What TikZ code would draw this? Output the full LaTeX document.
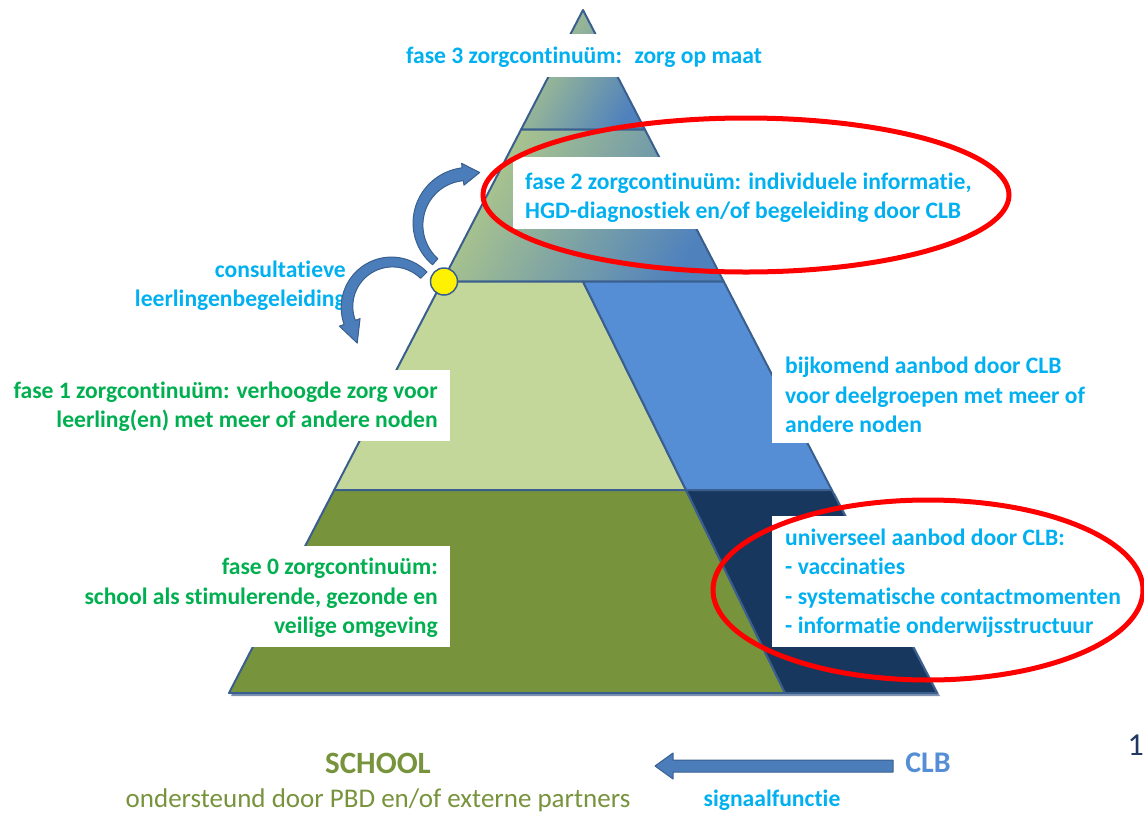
\documentclass[tikz,border=0pt]{standalone}
\usepackage{fontspec}
\setmainfont{Carlito}[Ligatures=NoCommon]
\usetikzlibrary{calc}
\definecolor{cyanT}{HTML}{00B0F0}
\definecolor{greenT}{HTML}{00B050}
\definecolor{oliveC}{HTML}{77933C}
\definecolor{ltgreen}{HTML}{C4D79B}
\definecolor{midblue}{HTML}{558ED5}
\definecolor{navyC}{HTML}{17375E}
\definecolor{edgeC}{HTML}{3A5F8E}
\definecolor{shadowC}{HTML}{7F93B3}
\definecolor{gGreen}{HTML}{B3CB88}
\definecolor{gBlue}{HTML}{4F81BD}
\definecolor{arrowC}{HTML}{4A7DBA}
\definecolor{slidenum}{HTML}{1F3864}
\tikzset{
  layer/.style={draw=edgeC, line width=2pt, line join=round},
  gradlayer/.style={layer, left color=gGreen, right color=gBlue, shading angle=60},
  shadowst/.style={fill=shadowC, draw=none},
  txt/.style={inner sep=0pt, font=\fontsize{23.6}{29.5}\selectfont\bfseries},
  curvearrow/.style={fill=arrowC, draw=edgeC, line width=1pt, line join=round},
  ring/.style={draw=red, line width=5pt}
}
\begin{document}
\begin{tikzpicture}[x=1pt, y=-1pt]
\useasboundingbox (0,0) rectangle (1144,812);
% shadows
\fill[shadowst] (336.2,493) -- (834.8,493) -- (940,696) -- (231,696) -- cycle;
% layer 3 (top)
\path[gradlayer] (583,10) -- (644.9,129.5) -- (521.1,129.5) -- cycle;
% layer 2
\path[gradlayer] (521.1,129.5) -- (644.9,129.5) -- (723.7,281.5) -- (442.3,281.5) -- cycle;
% layer 1
\path[layer, fill=ltgreen] (442.3,281.5) -- (583,281.5) -- (686,490) -- (334.2,490) -- cycle;
\path[layer, fill=midblue] (583,281.5) -- (723.7,281.5) -- (831.8,490) -- (686,490) -- cycle;
% layer 0
\path[layer, fill=oliveC] (334.2,490) -- (686,490) -- (785,693) -- (229,693) -- cycle;
\path[layer, fill=navyC] (686,490) -- (831.8,490) -- (937,693) -- (785,693) -- cycle;
% white text boxes
\fill[white] (395,34) rectangle (775,77);
\fill[white] (513,157) rectangle (990,229);
\fill[white] (0,370) rectangle (450,441);
\fill[white] (772,350) rectangle (1090,443);
\fill[white] (0,546) rectangle (450,647);
\fill[white] (772,516) rectangle (1130,647);
% texts
\node[txt, text=cyanT] (f3) at (584,57) {fase 3 zorgcontinuüm:~ zorg op maat};
\node[txt, text=cyanT, align=left, anchor=west] (f2) at (525,197.5) {fase 2 zorgcontinuüm: individuele informatie,\\HGD-diagnostiek en/of begeleiding door CLB};
\node[txt, text=cyanT, align=right, anchor=east] (clb) at (346,285.5) {consultatieve\\leerlingenbegeleiding};
\node[txt, text=greenT, align=right, anchor=east] (f1) at (438,406.5) {fase 1 zorgcontinuüm: verhoogde zorg voor\\leerling(en) met meer of andere noden};
\node[txt, text=cyanT, align=left, anchor=west] (bijk) at (785,395) {bijkomend aanbod door CLB\\voor deelgroepen met meer of\\andere noden};
\node[txt, text=greenT, align=right, anchor=east] (f0) at (438,598) {fase 0 zorgcontinuüm:\\school als stimulerende, gezonde en\\veilige omgeving};
\node[txt, text=cyanT, align=left, anchor=west] (univ) at (785,583) {universeel aanbod door CLB:\\- vaccinaties\\- systematische contactmomenten\\- informatie onderwijsstructuur};
% curved arrows
\path[curvearrow] plot[domain=131:264, samples=40, variable=\t] ({468+(54+2.5*(\t-131)/133)*cos(\t)}, {224+(54+2.5*(\t-131)/133)*sin(\t)})
  -- ({468+61*cos(264)},{224+61*sin(264)})
  -- (479.7,172.5)
  -- ({468+39*cos(264)},{224+39*sin(264)})
  -- plot[domain=264:131, samples=40, variable=\t] ({468+(46-2.5*(\t-131)/133)*cos(\t)}, {224+(46-2.5*(\t-131)/133)*sin(\t)})
  -- cycle;
\path[curvearrow] plot[domain=315:160, samples=40, variable=\t] ({392+(49.5+1.5*(315-\t)/155)*cos(\t)}, {307+(49.5+1.5*(315-\t)/155)*sin(\t)})
  -- ({392+56*cos(160)},{307+56*sin(160)})
  -- ({392+45*cos(160)+22*sin(160)},{307+45*sin(160)-22*cos(160)})
  -- ({392+34*cos(160)},{307+34*sin(160)})
  -- plot[domain=160:315, samples=40, variable=\t] ({392+(40.5-1.5*(315-\t)/155)*cos(\t)}, {307+(40.5-1.5*(315-\t)/155)*sin(\t)})
  -- cycle;
\node[circle, fill=yellow, draw=edgeC, line width=1.5pt, minimum size=27pt, inner sep=0pt] (dot) at (444,281.5) {};
% bottom labels
\node[inner sep=0pt, font=\fontsize{31}{36}\selectfont\bfseries, text=oliveC] (school) at (378,763) {SCHOOL};
\node[inner sep=0pt, font=\fontsize{27}{32}\selectfont, text=oliveC] (pbd) at (378,800) {ondersteund door PBD en/of externe partners};
\node[inner sep=0pt, font=\fontsize{30}{36}\selectfont\bfseries, text=midblue] (clbb) at (928,763) {CLB};
\node[inner sep=0pt, font=\fontsize{23.6}{28}\selectfont\bfseries, text=cyanT] (sig) at (772,800) {signaalfunctie};
\node[inner sep=0pt, anchor=east, font=\fontsize{32}{38}\selectfont, text=slidenum] (num) at (1144,745) {1};
\path[fill=arrowC, draw=edgeC, line width=1pt, line join=round] (893,760) -- (673,760) -- (673,753) -- (655,766) -- (673,779) -- (673,772) -- (893,772) -- cycle;
% red ellipses
\draw[ring] (746,195) ellipse [x radius=263pt, y radius=77pt];
\draw[ring] (928,590) ellipse [x radius=215pt, y radius=90pt];
\end{tikzpicture}
\end{document}
